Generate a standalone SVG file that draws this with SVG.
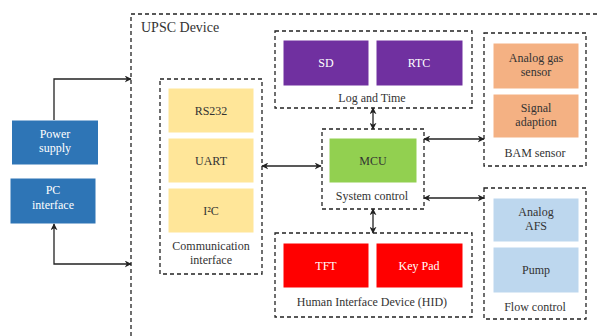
<svg xmlns="http://www.w3.org/2000/svg" width="598" height="336" viewBox="0 0 598 336">
<style>
  .dash{fill:none;stroke:#222;stroke-width:1.3;stroke-dasharray:4 3}
  .blk{stroke:#ffffff;stroke-width:1}
  .t{font-size:12px;text-anchor:middle;fill:#333}
  .w{fill:#ffffff}
  .conn{fill:none;stroke:#222;stroke-width:1.3}
</style>
<defs>
  <marker id="ah" viewBox="0 0 10 10" refX="9" refY="5" markerWidth="7" markerHeight="7" markerUnits="userSpaceOnUse" orient="auto-start-reverse">
    <path d="M0,0 L10,5 L0,10 L3,5 z" fill="#222"/>
  </marker>
</defs>
<rect width="598" height="336" fill="#ffffff"/>
<g font-family="Liberation Serif, Times New Roman, DejaVu Serif, serif">
<g id="upsc">
  <path class="dash" d="M131,336 V14 H598"/>
  <text x="141" y="32" font-size="14" fill="#333">UPSC Device</text>
</g>

<g id="power">
  <rect class="blk" x="11.5" y="120" width="87" height="45" fill="#2E75B6"/>
  <text class="t w" x="55" y="138">Power</text>
  <text class="t w" x="55" y="152">supply</text>
</g>
<g id="pc">
  <rect class="blk" x="10" y="178" width="86" height="46" fill="#2E75B6"/>
  <text class="t w" x="53" y="194">PC</text>
  <text class="t w" x="53" y="209">interface</text>
</g>

<g id="comm">
  <rect class="dash" x="160" y="79" width="102" height="195"/>
  <rect class="blk" x="168" y="88" width="86" height="45" fill="#FFE699"/>
  <text class="t" x="211" y="114.5">RS232</text>
  <rect class="blk" x="168" y="138" width="86" height="45" fill="#FFE699"/>
  <text class="t" x="211" y="164.5">UART</text>
  <rect class="blk" x="168" y="188" width="86" height="45" fill="#FFE699"/>
  <text class="t" x="211" y="214.5">I²C</text>
  <text class="t" x="211" y="250">Communication</text>
  <text class="t" x="211" y="264">interface</text>
</g>

<g id="log">
  <rect class="dash" x="275" y="31" width="197" height="77"/>
  <rect class="blk" x="283" y="40" width="86" height="46" fill="#7030A0"/>
  <text class="t w" x="326" y="67">SD</text>
  <rect class="blk" x="376" y="40" width="87" height="46" fill="#7030A0"/>
  <text class="t w" x="419" y="67">RTC</text>
  <text class="t" x="372" y="102">Log and Time</text>
</g>

<g id="sys">
  <rect class="dash" x="322" y="129" width="102" height="80"/>
  <rect class="blk" x="329" y="138" width="88" height="45" fill="#92D050"/>
  <text class="t" x="373" y="164.5">MCU</text>
  <text class="t" x="372" y="200">System control</text>
</g>

<g id="hid">
  <rect class="dash" x="275" y="233" width="197" height="84"/>
  <rect class="blk" x="283" y="243" width="86" height="45" fill="#FF0000"/>
  <text class="t w" x="326" y="270">TFT</text>
  <rect class="blk" x="376" y="243" width="87" height="45" fill="#FF0000"/>
  <text class="t w" x="419" y="270">Key Pad</text>
  <text class="t" x="372" y="306">Human Interface Device (HID)</text>
</g>

<g id="bam">
  <rect class="dash" x="484" y="33" width="102" height="133"/>
  <rect class="blk" x="493" y="43" width="86" height="46" fill="#F4B183"/>
  <text class="t" x="536" y="62">Analog gas</text>
  <text class="t" x="536" y="76">sensor</text>
  <rect class="blk" x="493" y="94" width="86" height="44" fill="#F4B183"/>
  <text class="t" x="536" y="112">Signal</text>
  <text class="t" x="536" y="126">adaption</text>
  <text class="t" x="535" y="157">BAM sensor</text>
</g>

<g id="flow">
  <rect class="dash" x="484" y="188" width="102" height="131"/>
  <rect class="blk" x="493" y="198" width="86" height="44" fill="#BDD7EE"/>
  <text class="t" x="536" y="216">Analog</text>
  <text class="t" x="536" y="230">AFS</text>
  <rect class="blk" x="493" y="247" width="86" height="46" fill="#BDD7EE"/>
  <text class="t" x="536" y="274">Pump</text>
  <text class="t" x="535" y="311">Flow control</text>
</g>
</g>
<g id="connectors">
  <path class="conn" d="M54,120 V79 H131" marker-end="url(#ah)"/>
  <path class="conn" d="M54,224 V264 H131" marker-start="url(#ah)" marker-end="url(#ah)"/>
  <path class="conn" d="M262,166 H321" marker-start="url(#ah)" marker-end="url(#ah)"/>
  <path class="conn" d="M373,108 V129" marker-start="url(#ah)" marker-end="url(#ah)"/>
  <path class="conn" d="M373,209 V233" marker-start="url(#ah)" marker-end="url(#ah)"/>
  <path class="conn" d="M424,139 H484" marker-start="url(#ah)" marker-end="url(#ah)"/>
  <path class="conn" d="M424,198 H484" marker-start="url(#ah)" marker-end="url(#ah)"/>
</g>
</svg>
